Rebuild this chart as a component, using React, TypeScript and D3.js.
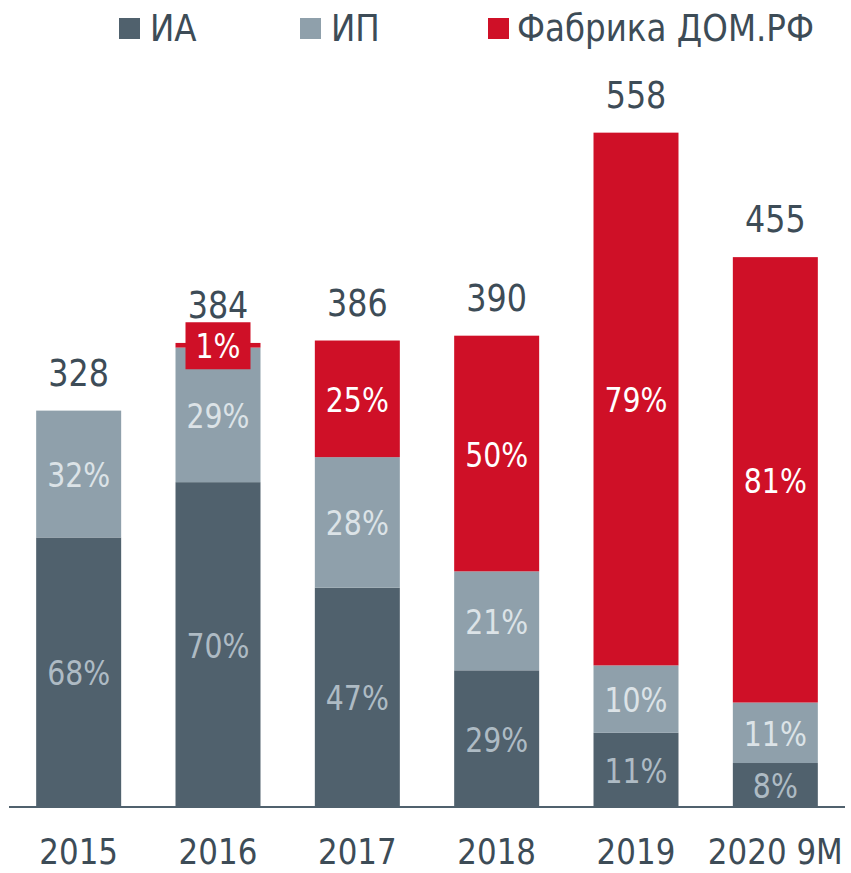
import React from "react";
import * as d3 from "d3";

const categories = ["2015", "2016", "2017", "2018", "2019", "2020 9M"];
const totals = [328, 384, 386, 390, 558, 455];
const shareIA = [68, 70, 47, 29, 11, 8];
const shareIP = [32, 29, 28, 21, 10, 11];
const shareDom = [0, 1, 25, 50, 79, 81];
const seriesNames = ["ИА", "ИП", "Фабрика ДОМ.РФ"];

const colors = ["#50616d", "#8fa0ab", "#cf1027"];
const insideText = ["#aebbc4", "#dce3e7", "#ffffff"];
const darkText = "#3d4c57";
const FONT = "'DejaVu Sans', sans-serif";
const SX = 0.86;

const W = 851;
const H = 873;

function T({ x, y, size, fill, children, anchor = "middle", sx = SX }: any) {
  return (
    <text
      transform={`translate(${x},${y}) scale(${sx},1)`}
      fontSize={size}
      fill={fill}
      textAnchor={anchor}
      fontFamily={FONT}
    >
      {children}
    </text>
  );
}

export default function App() {
  const x = d3
    .scaleBand<string>()
    .domain(categories)
    .range([9, 845])
    .paddingInner(0.39)
    .paddingOuter(0.195);
  const y = d3.scaleLinear().domain([0, 600]).range([807, 807 - 600 * 1.2085]);

  const shares = [shareIA, shareIP, shareDom];
  const rows = categories.map((c, i) => {
    const r: any = { cat: c };
    seriesNames.forEach((s, k) => (r[s] = (totals[i] * shares[k][i]) / 100));
    return r;
  });
  const stacked = d3.stack<any>().keys(seriesNames)(rows);

  const legendX = [119, 300, 488];
  const legendTextX = [150, 331, 517];

  return (
    <svg
      width={W}
      height={H}
      style={{ position: "absolute", left: 0, top: 0, background: "#fff" }}
    >
      {/* legend */}
      {seriesNames.map((s, k) => (
        <g key={s}>
          <rect x={legendX[k]} y={18} width={21} height={21} fill={colors[k]} />
          <T x={legendTextX[k]} y={41} size={37} fill={darkText} anchor="start" sx={0.88}>
            {s}
          </T>
        </g>
      ))}

      {/* bars */}
      {stacked.map((layer, k) =>
        layer.map((d, i) => {
          const share = shares[k][i];
          if (share <= 0) return null;
          const x0 = x(categories[i])!;
          const bw = x.bandwidth();
          const yTop = y(d[1]);
          const yBot = y(d[0]);
          return (
            <rect
              key={`${k}-${i}`}
              x={x0}
              y={yTop}
              width={bw}
              height={yBot - yTop}
              fill={colors[k]}
            />
          );
        })
      )}

      {/* inside labels */}
      {stacked.map((layer, k) =>
        layer.map((d, i) => {
          const share = shares[k][i];
          if (share <= 0) return null;
          const cx = x(categories[i])! + x.bandwidth() / 2;
          const cy = (y(d[1]) + y(d[0])) / 2;
          const small = y(d[0]) - y(d[1]) < 35;
          return (
            <g key={`l-${k}-${i}`}>
              {small && (
                <rect x={cx - 32.5} y={cy - 23} width={65} height={47} fill={colors[k]} />
              )}
              <T x={cx} y={cy + 13} size={33} fill={insideText[k]}>
                {`${share}%`}
              </T>
            </g>
          );
        })
      )}

      {/* totals */}
      {categories.map((c, i) => (
        <T
          key={`t-${c}`}
          x={x(c)! + x.bandwidth() / 2}
          y={y(totals[i]) - 25}
          size={37}
          fill={darkText}
        >
          {totals[i]}
        </T>
      ))}

      {/* axis */}
      <line x1={9} x2={845} y1={807} y2={807} stroke="#50616d" strokeWidth={2} />
      {categories.map((c) => (
        <T key={`c-${c}`} x={x(c)! + x.bandwidth() / 2} y={864} size={36} fill={darkText}>
          {c}
        </T>
      ))}
    </svg>
  );
}
